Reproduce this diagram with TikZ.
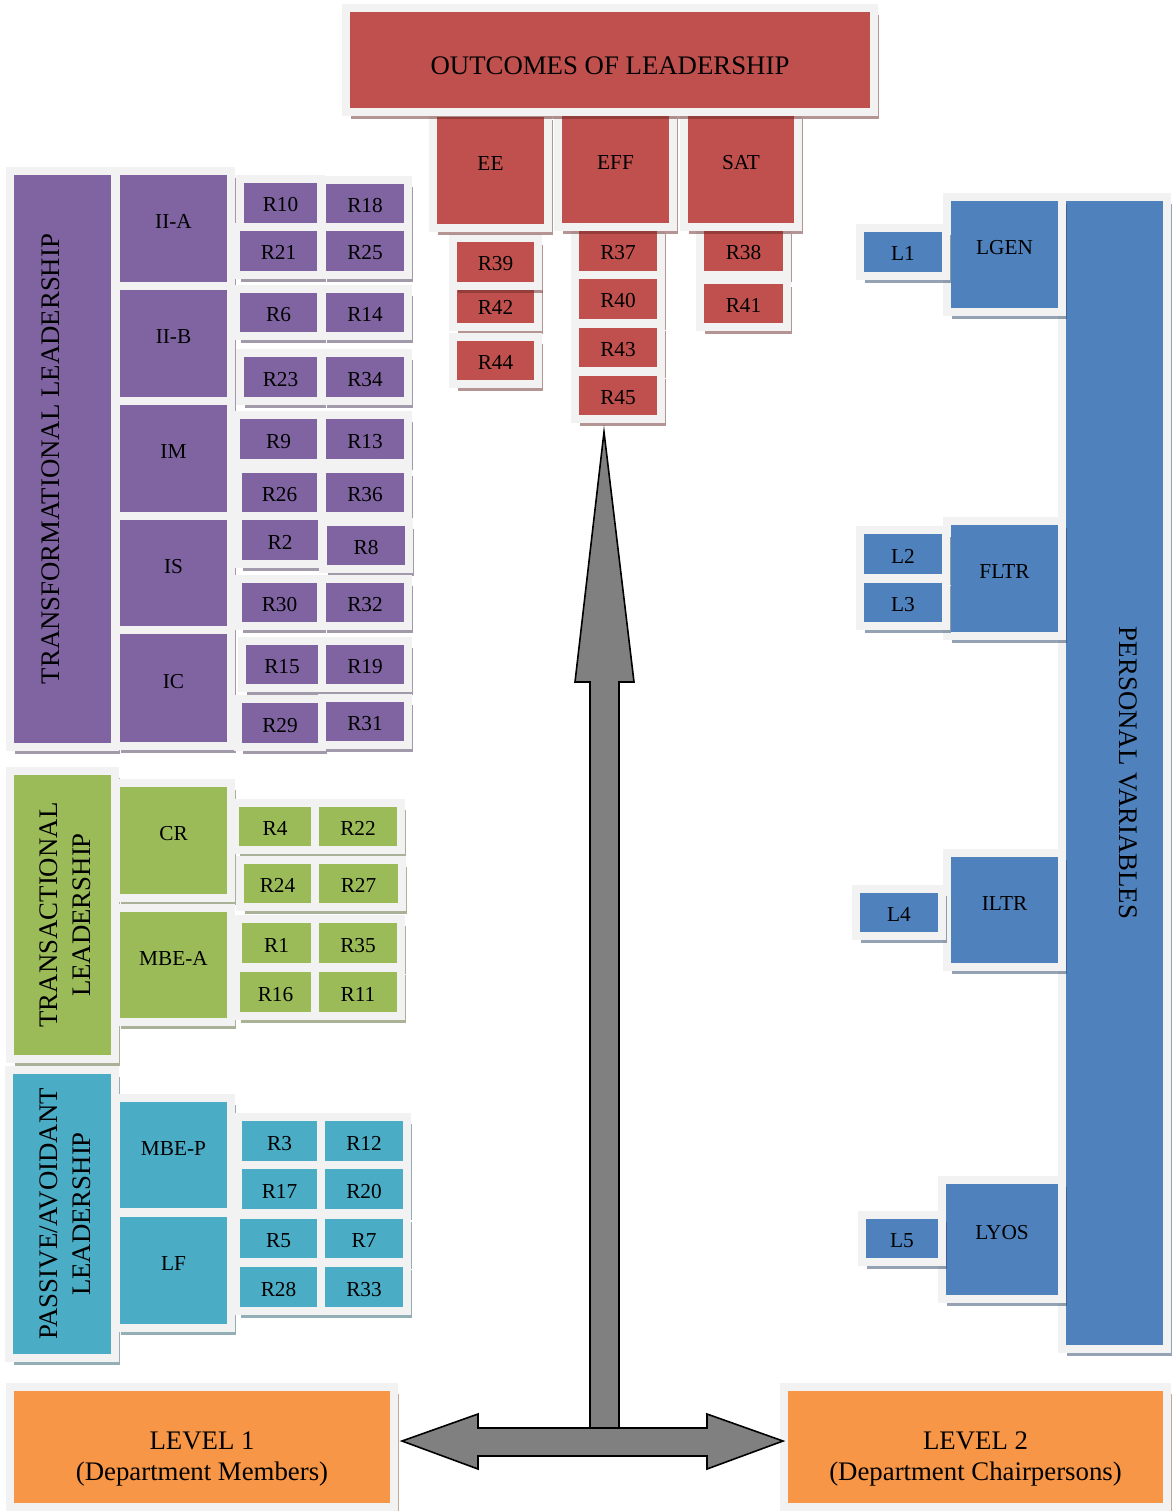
\documentclass[tikz,border=0pt]{standalone}
\usepackage{fontspec}
\setmainfont{Liberation Serif}
\usetikzlibrary{shadows}
\definecolor{frame}{HTML}{F2F2F2}
\definecolor{cpu}{HTML}{8064A2}
\definecolor{cgr}{HTML}{9BBB59}
\definecolor{ccy}{HTML}{4BACC6}
\definecolor{cbl}{HTML}{4F81BD}
\definecolor{crd}{HTML}{C0504D}
\definecolor{cor}{HTML}{F79646}
\definecolor{agray}{HTML}{808080}
\newcommand\fsm{\fontsize{21.3}{25}\selectfont}
\newcommand\fbg{\fontsize{26.8}{31}\selectfont}
% one line of text, centred horizontally, baseline raised by #1 above the node centre
\newcommand\lbltxt[2]{\makebox[0pt]{\raisebox{#1}[0pt][0pt]{#2}}}
\newcommand\mybox[7]{%
  \pgfmathsetmacro\bxw{#4-#2+8}\pgfmathsetmacro\bxh{#5-#3+8}%
  \node[#6, minimum width=\bxw pt, minimum height=\bxh pt] (#1) at ({(#2+#4)/2},{(#3+#5)/2}) {#7};}
\newcommand\cellbx[7]{\mybox{#1}{#2}{#3}{#4}{#5}{#6}{\lbltxt{-9pt}{#7}}}
\newcommand\bigbx[7]{\mybox{#1}{#2}{#3}{#4}{#5}{#6}{\lbltxt{0pt}{#7}}}
\tikzset{
  base/.style={inner sep=0pt, outer sep=0pt, line width=8pt, draw=frame, text=black, font=\fsm},
  pu/.style={base, fill=cpu, drop shadow={shadow xshift=5pt,shadow yshift=-7pt,fill=cpu!55!black,opacity=.5}},
  gr/.style={base, fill=cgr, drop shadow={shadow xshift=5pt,shadow yshift=-7pt,fill=cgr!55!black,opacity=.5}},
  cy/.style={base, fill=ccy, drop shadow={shadow xshift=5pt,shadow yshift=-7pt,fill=ccy!55!black,opacity=.5}},
  bl/.style={base, fill=cbl, drop shadow={shadow xshift=5pt,shadow yshift=-7pt,fill=cbl!55!black,opacity=.5}},
  rd/.style={base, fill=crd, drop shadow={shadow xshift=5pt,shadow yshift=-7pt,fill=crd!55!black,opacity=.5}},
  og/.style={base, fill=cor, drop shadow={shadow xshift=5pt,shadow yshift=-7pt,fill=cor!55!black,opacity=.5}},
  blockarrow/.style={fill=agray, draw=black, line width=1.6pt, line join=miter}
}
\begin{document}
\begin{tikzpicture}[x=1pt,y=-1pt]
\useasboundingbox[fill=white] (0,0) rectangle (1173,1511);

% ---------- Transformational ----------
\mybox{trf}{14}{175}{111}{743}{pu}{\fbg\rotatebox{90}{\lbltxt{3.4pt}{TRANSFORMATIONAL LEADERSHIP}}}
\bigbx{iia}{120}{175}{227}{282}{pu}{II-A}
\bigbx{iib}{120}{290}{227}{397}{pu}{II-B}
\bigbx{im}{120}{405}{227}{512}{pu}{IM}
\bigbx{is}{120}{520}{227}{626}{pu}{IS}
\bigbx{ic}{120}{634}{227}{742}{pu}{IC}
\cellbx{r10}{244}{183}{317}{223}{pu}{R10}
\cellbx{r18}{326}{184}{404}{223}{pu}{R18}
\cellbx{r21}{240}{231}{317}{271}{pu}{R21}
\cellbx{r25}{326}{231}{404}{271}{pu}{R25}
\cellbx{r6}{240}{293}{317}{332}{pu}{R6}
\cellbx{r14}{326}{293}{404}{332}{pu}{R14}
\cellbx{r23}{244}{357}{317}{397}{pu}{R23}
\cellbx{r34}{326}{357}{404}{397}{pu}{R34}
\cellbx{r9}{240}{419}{317}{459}{pu}{R9}
\cellbx{r13}{326}{419}{404}{459}{pu}{R13}
\cellbx{r26}{242}{473}{317}{512}{pu}{R26}
\cellbx{r36}{326}{473}{404}{512}{pu}{R36}
\cellbx{r2}{242}{520}{318}{560}{pu}{R2}
\cellbx{r8}{327}{526}{405}{565}{pu}{R8}
\cellbx{r30}{242}{583}{317}{622}{pu}{R30}
\cellbx{r32}{326}{583}{404}{622}{pu}{R32}
\cellbx{r15}{246}{645}{318}{684}{pu}{R15}
\cellbx{r19}{326}{645}{404}{684}{pu}{R19}
\cellbx{r29}{242}{703}{318}{743}{pu}{R29}
\cellbx{r31}{326}{702}{404}{741}{pu}{R31}

% ---------- Transactional ----------
\mybox{tra}{14}{775}{111}{1055}{gr}{\fbg\rotatebox{90}{\lbltxt{5.4pt}{TRANSACTIONAL}\lbltxt{-27.6pt}{LEADERSHIP}}}
\bigbx{cr}{120}{787}{227}{894}{gr}{CR}
\bigbx{mbea}{120}{912}{227}{1018}{gr}{MBE-A}
\cellbx{r4}{239}{807}{311}{846}{gr}{R4}
\cellbx{r22}{319}{807}{397}{846}{gr}{R22}
\cellbx{r24}{244}{864}{311}{903}{gr}{R24}
\cellbx{r27}{319}{864}{398}{903}{gr}{R27}
\cellbx{r1}{242}{923}{311}{963}{gr}{R1}
\cellbx{r35}{319}{923}{397}{963}{gr}{R35}
\cellbx{r16}{240}{972}{311}{1012}{gr}{R16}
\cellbx{r11}{319}{972}{397}{1012}{gr}{R11}

% ---------- Passive/Avoidant ----------
\mybox{pas}{13}{1074}{111}{1354}{cy}{\fbg\rotatebox{90}{\lbltxt{5pt}{PASSIVE/AVOIDANT}\lbltxt{-28pt}{LEADERSHIP}}}
\bigbx{mbep}{120}{1102}{227}{1208}{cy}{MBE-P}
\bigbx{lf}{120}{1217}{227}{1324}{cy}{LF}
\cellbx{r3}{242}{1121}{317}{1161}{cy}{R3}
\cellbx{r12}{325}{1121}{403}{1161}{cy}{R12}
\cellbx{r17}{242}{1169}{317}{1209}{cy}{R17}
\cellbx{r20}{325}{1169}{403}{1209}{cy}{R20}
\cellbx{r5}{240}{1219}{317}{1258}{cy}{R5}
\cellbx{r7}{325}{1219}{403}{1258}{cy}{R7}
\cellbx{r28}{240}{1267}{317}{1307}{cy}{R28}
\cellbx{r33}{325}{1267}{403}{1307}{cy}{R33}

% ---------- Outcomes ----------
\cellbx{r42}{457}{288}{534}{323}{rd}{R42}
\cellbx{r39}{457}{242}{534}{282}{rd}{R39}
\cellbx{r44}{457}{341}{534}{380}{rd}{R44}
\cellbx{r37}{579}{231}{657}{271}{rd}{R37}
\cellbx{r40}{579}{279}{657}{319}{rd}{R40}
\cellbx{r43}{579}{328}{657}{367}{rd}{R43}
\cellbx{r45}{579}{376}{657}{415}{rd}{R45}
\cellbx{r38}{704}{231}{783}{271}{rd}{R38}
\cellbx{r41}{704}{284}{783}{323}{rd}{R41}
\bigbx{ee}{437}{117}{544}{224}{rd}{EE}
\bigbx{eff}{562}{116}{669}{223}{rd}{EFF}
\bigbx{sat}{688}{116}{794}{223}{rd}{SAT}
\mybox{out}{350}{12}{870}{108}{rd}{\fbg\lbltxt{-14.6pt}{OUTCOMES OF LEADERSHIP}}

% ---------- Personal variables ----------
\mybox{pv}{1066}{201}{1163}{1345}{bl}{\fbg\rotatebox{-90}{\lbltxt{4.9pt}{PERSONAL VARIABLES}}}
\bigbx{lgen}{951}{201}{1058}{308}{bl}{LGEN}
\cellbx{l1}{864}{232}{942}{272}{bl}{L1}
\bigbx{fltr}{951}{525}{1058}{632}{bl}{FLTR}
\cellbx{l2}{864}{534}{942}{574}{bl}{L2}
\cellbx{l3}{864}{583}{942}{622}{bl}{L3}
\bigbx{iltr}{951}{857}{1058}{963}{bl}{ILTR}
\cellbx{l4}{860}{893}{938}{932}{bl}{L4}
\bigbx{lyos}{946}{1184}{1058}{1295}{bl}{LYOS}
\cellbx{l5}{866}{1219}{938}{1258}{bl}{L5}

% ---------- Levels ----------
\mybox{lev1}{14}{1391}{390}{1503}{og}{\fbg\lbltxt{-2pt}{LEVEL 1}\lbltxt{-33.6pt}{(Department Members)}}
\mybox{lev2}{788}{1391}{1163}{1503}{og}{\fbg\lbltxt{-2pt}{LEVEL 2}\lbltxt{-33.6pt}{(Department Chairpersons)}}

% ---------- Block arrows ----------
\coordinate (tipU) at (604,432);
\coordinate (tipL) at (402,1441);
\coordinate (tipR) at (783,1441);
\draw[blockarrow] (tipU) -- (634,682) -- (619,682) -- (619,1428) -- (590,1428) -- (590,682) -- (575,682) -- cycle;
\draw[blockarrow] (tipL) -- (478,1414) -- (478,1428) -- (707,1428) -- (707,1414) -- (tipR)
  -- (707,1469) -- (707,1456) -- (478,1456) -- (478,1469) -- cycle;
\end{tikzpicture}
\end{document}
